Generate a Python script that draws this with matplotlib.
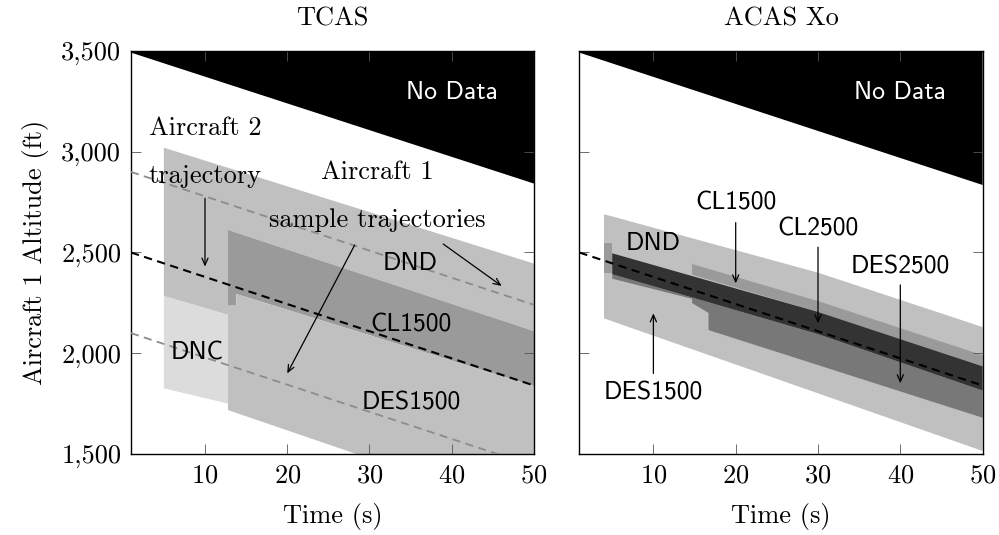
import matplotlib
matplotlib.use("Agg")
import matplotlib.pyplot as plt
from matplotlib.ticker import FuncFormatter

plt.rcParams['font.family'] = 'cmr10'
plt.rcParams['axes.formatter.use_mathtext'] = True

# ---- values (time in s, altitude in ft) ----
# aircraft 1 trajectory and the two sample trajectories
traj_t = [1, 50]
ac1_alt = [2500, 1840]
sample_hi_alt = [2900, 2240]
sample_lo_alt = [2100, 1440]

# TCAS regions (polygon corners)
tcas_nodata_t = [1, 50, 50, 1]
tcas_nodata_alt = [3500, 3500, 2842, 3492]
tcas_dnd_t = [5, 50, 50, 12.8, 12.8, 5]
tcas_dnd_alt = [3020, 2445, 2110, 2612, 2190, 2284]
tcas_dnc_t = [5, 12.8, 12.8, 5]
tcas_dnc_alt = [2284, 2190, 1750, 1826]
tcas_cl1500_t = [12.8, 50, 50, 13.8, 13.8, 12.8]
tcas_cl1500_alt = [2612, 2110, 1837, 2294, 2236, 2236]
tcas_des1500_t = [12.8, 13.8, 13.8, 50, 50, 28.4, 12.8]
tcas_des1500_alt = [2236, 2236, 2294, 1837, 1500, 1500, 1718]

# ACAS Xo regions
acas_nodata_t = [1, 50, 50, 1]
acas_nodata_alt = [3500, 3500, 2835, 3492]
acas_outer_t = [4, 30, 50, 50, 4]           # DND above, DES1500 below
acas_outer_alt = [2690, 2400, 2130, 1515, 2173]
acas_cl1500a_t = [4, 5, 5, 4]
acas_cl1500a_alt = [2547, 2547, 2398, 2398]
acas_cl1500b_t = [14.7, 30.3, 50, 50, 30, 14.7]
acas_cl1500b_alt = [2443, 2255, 1990, 1935, 2205, 2390]
acas_des2500_t = [5, 30, 50, 50, 16.7, 16.7, 14.7, 14.7, 5]
acas_des2500_alt = [2392, 2095, 1815, 1680, 2115, 2200, 2249, 2270, 2370]
acas_cl2500_t = [5, 30, 50, 50, 30, 5]
acas_cl2500_alt = [2496, 2205, 1935, 1815, 2095, 2392]

x_ticks = [10, 20, 30, 40, 50]
y_ticks = [1500, 2000, 2500, 3000, 3500]

c_nodata = 'black'
c_light = '#c0c0c0'
c_dnc = '#dcdcdc'
c_mid = '#9a9a9a'
c_des2500 = '#787878'
c_dark = '#333333'

fig = plt.figure(figsize=(9.99, 5.35), dpi=100)
ax1 = fig.add_axes([0.1311, 0.1514, 0.4034, 0.7533])
ax2 = fig.add_axes([0.5799, 0.1514, 0.4037, 0.7533])

sans = 'cmss10'
fs = 19
fs_sans = 18.5


def setup(ax, title):
    ax.set_xlim(1, 50)
    ax.set_ylim(1500, 3500)
    ax.set_xticks(x_ticks)
    ax.set_yticks(y_ticks)
    ax.yaxis.set_major_formatter(FuncFormatter(lambda v, p: f'{int(v):,}'))
    ax.tick_params(direction='in', top=True, right=True, length=7, width=0.6,
                   color='#555555', labelsize=fs, pad=7)
    for s in ax.spines.values():
        s.set_linewidth(1.0)
    ax.set_xlabel('Time (s)', fontsize=fs, labelpad=11)
    ax.set_title(title, fontsize=fs, pad=18)


def lines(ax):
    ax.plot(traj_t, sample_hi_alt, color='#8c8c8c', lw=1.3, dashes=(4.5, 3), zorder=3)
    ax.plot(traj_t, sample_lo_alt, color='#8c8c8c', lw=1.3, dashes=(4.5, 3), zorder=3)


def arrow(ax, start, tip):
    ax.annotate('', xy=tip, xytext=start, zorder=5,
                arrowprops=dict(arrowstyle='->,head_length=0.5,head_width=0.22', lw=0.9, color='black',
                                shrinkA=0, shrinkB=0))


# ---- TCAS ----
setup(ax1, 'TCAS')
ax1.fill(tcas_nodata_t, tcas_nodata_alt, color=c_nodata, lw=0)
ax1.fill(tcas_dnd_t, tcas_dnd_alt, color=c_light, lw=0)
ax1.fill(tcas_dnc_t, tcas_dnc_alt, color=c_dnc, lw=0)
ax1.fill(tcas_cl1500_t, tcas_cl1500_alt, color=c_mid, lw=0)
ax1.fill(tcas_des1500_t, tcas_des1500_alt, color=c_light, lw=0)
lines(ax1)
ax1.plot(traj_t, ac1_alt, color='black', lw=1.5, dashes=(4, 2.6), zorder=4)
ax1.set_ylabel('Aircraft 1 Altitude (ft)', fontsize=fs, labelpad=9)

ax1.text(40, 3293, 'No Data', color='white', family=sans, fontsize=fs_sans, ha='center', va='center')
ax1.text(10, 3116, 'Aircraft 2', fontsize=fs, ha='center', va='center')
ax1.text(10, 2881, 'trajectory', fontsize=fs, ha='center', va='center')
ax1.text(30.9, 2901, 'Aircraft 1', fontsize=fs, ha='center', va='center')
ax1.text(30.9, 2661, 'sample trajectories', fontsize=fs, ha='center', va='center')
ax1.text(35, 2446, 'DND', family=sans, fontsize=fs_sans, ha='center', va='center')
ax1.text(35, 2140, 'CL1500', family=sans, fontsize=fs_sans, ha='center', va='center')
ax1.text(35.1, 1751, 'DES1500', family=sans, fontsize=fs_sans, ha='center', va='center')
ax1.text(9.1, 2000, 'DNC', family=sans, fontsize=fs_sans, ha='center', va='center')
arrow(ax1, (10, 2769), (10, 2430))
arrow(ax1, (28.2, 2537), (20.0, 1900))
arrow(ax1, (38.97, 2542), (46.07, 2334))

# ---- ACAS Xo ----
setup(ax2, 'ACAS Xo')
ax2.tick_params(labelleft=False)
ax2.fill(acas_nodata_t, acas_nodata_alt, color=c_nodata, lw=0)
ax2.fill(acas_outer_t, acas_outer_alt, color=c_light, lw=0)
ax2.fill(acas_cl1500a_t, acas_cl1500a_alt, color=c_mid, lw=0)
ax2.fill(acas_cl1500b_t, acas_cl1500b_alt, color=c_mid, lw=0)
ax2.fill(acas_des2500_t, acas_des2500_alt, color=c_des2500, lw=0)
ax2.fill(acas_cl2500_t, acas_cl2500_alt, color=c_dark, lw=0)
ax2.plot(traj_t, ac1_alt, color='black', lw=1.5, dashes=(4, 2.6), zorder=4)

ax2.text(40, 3293, 'No Data', color='white', family=sans, fontsize=fs_sans, ha='center', va='center')
ax2.text(20, 2744, 'CL1500', family=sans, fontsize=fs_sans, ha='center', va='center')
ax2.text(30, 2615, 'CL2500', family=sans, fontsize=fs_sans, ha='center', va='center')
ax2.text(40, 2430, 'DES2500', family=sans, fontsize=fs_sans, ha='center', va='center')
ax2.text(10, 2546, 'DND', family=sans, fontsize=fs_sans, ha='center', va='center')
ax2.text(10, 1801, 'DES1500', family=sans, fontsize=fs_sans, ha='center', va='center')
arrow(ax2, (20, 2648), (20, 2347))
arrow(ax2, (30, 2526), (30, 2149))
arrow(ax2, (40, 2339), (40, 1851))
arrow(ax2, (10, 1900), (10, 2198))

fig.savefig('out.png', dpi=100)
